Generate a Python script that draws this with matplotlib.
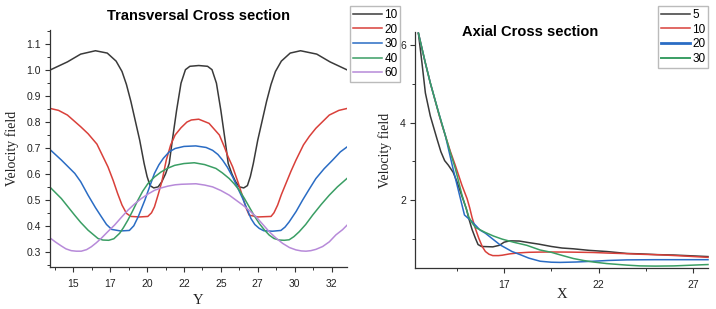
import matplotlib
matplotlib.use("Agg")
import matplotlib.pyplot as plt
from matplotlib.lines import Line2D
from matplotlib.ticker import FixedLocator, MultipleLocator

# ---- Transversal cross section (velocity vs Y) ----
t_labels = ["10", "20", "30", "40", "60"]

t10_x = [13.4, 14.0, 14.6, 15.5, 16.5, 17.3, 17.9, 18.3, 18.6, 18.9, 19.2, 19.5, 19.8, 20.0,
         20.2, 20.45, 20.75, 21.0, 21.25, 21.5, 21.7, 22.0, 22.3, 22.6, 22.9, 23.5, 24.1, 24.4,
         24.7, 25.0, 25.3, 25.5, 25.75, 26.0, 26.25, 26.55, 26.8, 27.0, 27.2, 27.5, 27.8, 28.1,
         28.4, 28.7, 29.1, 29.7, 30.4, 31.5, 32.4, 33.0, 33.6]
t10_y = [1.000, 1.016, 1.032, 1.062, 1.075, 1.066, 1.035, 0.995, 0.945, 0.880, 0.805, 0.730,
         0.640, 0.590, 0.555, 0.546, 0.550, 0.570, 0.600, 0.640, 0.725, 0.845, 0.950, 1.002,
         1.015, 1.018, 1.015, 1.002, 0.950, 0.845, 0.725, 0.640, 0.600, 0.570, 0.550, 0.546,
         0.555, 0.590, 0.640, 0.730, 0.805, 0.880, 0.945, 0.995, 1.035, 1.066, 1.075, 1.062,
         1.032, 1.016, 1.000]

t20_x = [13.4, 14.0, 14.6, 15.5, 16.0, 16.6, 17.35, 17.7, 18.0, 18.3, 18.6, 18.9, 19.5, 20.05,
         20.3, 20.5, 20.75, 21.0, 21.3, 21.6, 21.9, 22.3, 22.7, 23.0, 23.5, 24.2, 24.9, 25.23,
         25.5, 25.8, 26.15, 26.48, 26.7, 26.92, 27.5, 28.4, 28.6, 28.85, 29.1, 29.41, 29.75,
         30.09, 30.6, 31.0, 31.44, 32.35, 33.0, 33.6]
t20_y = [0.853, 0.845, 0.827, 0.782, 0.755, 0.715, 0.627, 0.575, 0.525, 0.480, 0.448, 0.436,
         0.434, 0.436, 0.450, 0.473, 0.520, 0.570, 0.653, 0.712, 0.750, 0.778, 0.800, 0.808,
         0.811, 0.795, 0.750, 0.705, 0.665, 0.627, 0.570, 0.512, 0.470, 0.441, 0.434, 0.436,
         0.450, 0.480, 0.520, 0.563, 0.610, 0.653, 0.712, 0.745, 0.776, 0.827, 0.845, 0.853]

t30_x = [13.4, 14.2, 15.1, 15.5, 16.0, 16.5, 16.9, 17.25, 17.6, 18.2, 18.8, 19.1, 19.4, 19.85,
         20.2, 20.5, 20.8, 21.1, 21.5, 21.9, 22.5, 23.3, 24.0, 24.44, 24.8, 25.12, 25.45, 25.8,
         26.15, 26.48, 27.04, 27.3, 27.6, 27.9, 28.5, 29.07, 29.35, 29.63, 30.1, 30.54, 31.0,
         31.44, 32.0, 32.57, 33.1, 33.6]
t30_y = [0.695, 0.653, 0.602, 0.570, 0.518, 0.470, 0.435, 0.405, 0.386, 0.380, 0.382, 0.400,
         0.435, 0.499, 0.555, 0.602, 0.635, 0.660, 0.685, 0.698, 0.706, 0.708, 0.702, 0.691,
         0.675, 0.653, 0.625, 0.588, 0.545, 0.505, 0.428, 0.405, 0.390, 0.381, 0.379, 0.382,
         0.395, 0.415, 0.455, 0.499, 0.542, 0.582, 0.620, 0.653, 0.685, 0.706]

t40_x = [13.4, 14.19, 15.09, 15.5, 16.0, 16.67, 17.0, 17.4, 17.75, 18.14, 18.4, 18.7, 19.0,
         19.38, 19.7, 20.06, 20.5, 20.96, 21.4, 21.87, 22.5, 23.2, 23.9, 24.67, 25.1, 25.57,
         25.9, 26.25, 26.6, 26.92, 27.25, 27.6, 27.95, 28.28, 28.6, 28.96, 29.3, 29.63, 29.95,
         30.31, 30.75, 31.22, 31.8, 32.35, 32.9, 33.6]
t40_y = [0.550, 0.505, 0.441, 0.413, 0.383, 0.351, 0.345, 0.344, 0.350, 0.371, 0.393, 0.422,
         0.455, 0.499, 0.533, 0.563, 0.588, 0.608, 0.622, 0.633, 0.640, 0.643, 0.636, 0.621,
         0.604, 0.582, 0.562, 0.537, 0.505, 0.473, 0.440, 0.409, 0.384, 0.364, 0.351, 0.345,
         0.344, 0.346, 0.358, 0.377, 0.405, 0.441, 0.482, 0.518, 0.550, 0.585]

t60_x = [13.4, 13.8, 14.19, 14.5, 14.86, 15.2, 15.54, 15.9, 16.22, 16.55, 16.9, 17.35, 17.8,
         18.25, 18.7, 19.15, 19.61, 20.05, 20.51, 20.96, 21.42, 21.9, 22.32, 22.8, 23.31, 23.9,
         24.44, 25.0, 25.57, 26.0, 26.48, 26.93, 27.38, 27.8, 28.28, 28.75, 29.19, 29.65, 30.09,
         30.45, 30.77, 31.1, 31.44, 31.9, 32.35, 32.8, 33.25, 33.6]
t60_y = [0.354, 0.337, 0.322, 0.311, 0.304, 0.302, 0.302, 0.308, 0.319, 0.334, 0.352, 0.378,
         0.403, 0.432, 0.460, 0.484, 0.505, 0.522, 0.537, 0.546, 0.553, 0.558, 0.560, 0.561,
         0.562, 0.557, 0.550, 0.536, 0.518, 0.500, 0.480, 0.459, 0.435, 0.408, 0.377, 0.352,
         0.332, 0.316, 0.307, 0.303, 0.302, 0.304, 0.309, 0.320, 0.338, 0.365, 0.385, 0.405]

t_xticks = [15, 17.5, 20, 22.5, 25, 27.5, 30, 32.5]
t_xticklabels = ["15", "17", "20", "22", "25", "27", "30", "32"]
t_yticks = [0.3, 0.4, 0.5, 0.6, 0.7, 0.8, 0.9, 1.0, 1.1]
t_yticklabels = ["0.3", "0.4", "0.5", "0.6", "0.7", "0.8", "0.9", "1.0", "1.1"]

# ---- Axial cross section (velocity vs X) ----
a_labels = ["5", "10", "20", "30"]

a5_x = [12.46, 12.65, 12.83, 13.09, 13.45, 13.65, 13.85, 14.05, 14.3, 14.5, 14.77, 15.0, 15.13,
        15.3, 15.48, 15.62, 15.8, 16.4, 16.75, 17.0, 17.3, 17.8, 18.3, 18.84, 19.5, 20.07,
        20.67, 21.5, 22.44, 23.5, 24.21, 25.1, 25.97, 26.9, 27.8]
a5_y = [6.30, 5.53, 4.76, 4.17, 3.57, 3.25, 3.02, 2.90, 2.72, 2.48, 2.10, 1.78, 1.53, 1.25,
        1.02, 0.86, 0.81, 0.80, 0.84, 0.92, 0.955, 0.95, 0.91, 0.87, 0.81, 0.77, 0.75, 0.71,
        0.68, 0.63, 0.62, 0.60, 0.59, 0.57, 0.55]

a10_x = [12.46, 12.83, 13.09, 13.25, 13.54, 13.7, 13.89, 14.15, 14.42, 14.77, 15.04, 15.18,
         15.3, 15.48, 15.66, 15.85, 16.01, 16.2, 16.4, 16.7, 16.9, 17.3, 17.78, 18.3, 18.84,
         19.5, 20.5, 21.73, 22.5, 23.5, 24.21, 25.27, 26.5, 27.8]
a10_y = [6.30, 5.53, 5.02, 4.74, 4.22, 3.95, 3.66, 3.26, 2.89, 2.38, 2.04, 1.80, 1.56, 1.27,
         1.02, 0.80, 0.68, 0.61, 0.575, 0.575, 0.585, 0.62, 0.645, 0.66, 0.665, 0.668, 0.665,
         0.655, 0.64, 0.625, 0.61, 0.595, 0.565, 0.53]

a20_x = [12.46, 12.83, 13.09, 13.25, 13.54, 13.89, 14.1, 14.3, 14.6, 14.9, 15.3, 15.73, 16.01,
         16.4, 16.79, 17.42, 17.85, 18.31, 18.91, 19.5, 19.97, 20.8, 21.73, 22.5, 23.5, 25.0,
         26.5, 27.8]
a20_y = [6.30, 5.53, 5.02, 4.74, 4.24, 3.66, 3.22, 2.80, 2.21, 1.62, 1.45, 1.23, 1.15, 1.00,
         0.85, 0.68, 0.60, 0.51, 0.43, 0.405, 0.40, 0.41, 0.43, 0.45, 0.465, 0.47, 0.47, 0.47]

a30_x = [12.46, 12.83, 13.09, 13.25, 13.54, 13.89, 14.15, 14.42, 14.77, 15.13, 15.3, 15.48,
         16.01, 16.43, 16.89, 17.5, 18.2, 18.9, 19.5, 20.07, 20.67, 21.2, 21.73, 22.44, 23.5,
         24.21, 25.0, 26.0, 27.0, 27.8]
a30_y = [6.30, 5.53, 5.02, 4.74, 4.24, 3.66, 3.23, 2.81, 2.13, 1.57, 1.42, 1.30, 1.17, 1.08,
         1.00, 0.92, 0.84, 0.72, 0.66, 0.58, 0.50, 0.45, 0.41, 0.37, 0.33, 0.31, 0.305, 0.31,
         0.33, 0.345]

colors = ["#3a3a3a", "#d9403a", "#2a6cc4", "#3a9e64", "#b78ad9"]

plt.rcParams["font.family"] = ["Liberation Sans", "DejaVu Sans"]

fig = plt.figure(figsize=(7.16, 3.09), dpi=100)
ax1 = fig.add_axes([50 / 716, 1 - 267 / 309, 297 / 716, 237 / 309])
ax2 = fig.add_axes([415 / 716, 1 - 268 / 309, 293 / 716, 236 / 309])

t_series = [(t10_x, t10_y), (t20_x, t20_y), (t30_x, t30_y), (t40_x, t40_y), (t60_x, t60_y)]
for (xs, ys), c in zip(t_series, colors):
    ax1.plot(xs, ys, color=c, lw=1.1, solid_joinstyle="round")

a_series = [(a5_x, a5_y), (a10_x, a10_y), (a20_x, a20_y), (a30_x, a30_y)]
for (xs, ys), c in zip(a_series, colors[:4]):
    ax2.plot(xs, ys, color=c, lw=1.1, clip_on=False, solid_joinstyle="round")

# left axes
ax1.set_xlim(13.42, 33.55)
ax1.set_ylim(0.241, 1.155)
ax1.xaxis.set_major_locator(FixedLocator(t_xticks))
ax1.set_xticklabels(t_xticklabels)
ax1.xaxis.set_minor_locator(MultipleLocator(1.25))
ax1.set_yticks(t_yticks)
ax1.set_yticklabels(t_yticklabels)
ax1.yaxis.set_minor_locator(MultipleLocator(0.05))

# right axes
ax2.set_xlim(12.28, 27.8)
ax2.set_ylim(0.256, 6.33)
ax2.set_xticks([17, 22, 27])
ax2.xaxis.set_minor_locator(FixedLocator([14.5, 19.5, 24.5]))
ax2.set_yticks([2, 4, 6])
ax2.yaxis.set_minor_locator(FixedLocator([1, 3, 5]))

for ax in (ax1, ax2):
    for s in ("top", "right"):
        ax.spines[s].set_visible(False)
    for s in ("left", "bottom"):
        ax.spines[s].set_color("#333333")
        ax.spines[s].set_linewidth(0.9)
    ax.tick_params(which="major", length=3.5, width=0.8, color="#333333",
                   labelsize=7.5, labelcolor="#222222")
    ax.tick_params(which="minor", length=2, width=0.7, color="#333333")
    ax.tick_params(axis="x", pad=5)
    ax.tick_params(axis="y", pad=3)

serif = ["Liberation Serif", "DejaVu Serif"]
ax1.set_ylabel("Velocity field", family=serif, fontsize=10, color="#222222")
ax1.yaxis.set_label_coords(-0.105, 0.5)
ax1.set_xlabel("Y", family=serif, fontsize=10.5, color="#222222")
ax1.xaxis.set_label_coords(0.5, -0.112)
ax2.set_ylabel("Velocity field", family=serif, fontsize=10, color="#222222")
ax2.yaxis.set_label_coords(-0.078, 0.5)
ax2.set_xlabel("X", family=serif, fontsize=10.5, color="#222222")
ax2.xaxis.set_label_coords(0.5, -0.085)

ax1.set_title("Transversal Cross section", fontsize=10.5, fontweight="bold", pad=7)
fig.text(530 / 716, 1 - 32 / 309, "Axial Cross section", fontsize=10.5,
         fontweight="bold", ha="center", va="center")

# legends
t_handles = [Line2D([], [], color=c, lw=1.1) for c in colors]
fig.legend(t_handles, t_labels, loc="upper left", bbox_to_anchor=(350 / 716, 1 - 6 / 309),
           fontsize=8.5, handlelength=2.5, handletextpad=0.15, labelspacing=0.22,
           borderpad=0.25, borderaxespad=0, fancybox=False, edgecolor="#bbbbbb",
           framealpha=1)
a_lw = [1.1, 1.1, 2.0, 1.4]
a_handles = [Line2D([], [], color=c, lw=w) for c, w in zip(colors[:4], a_lw)]
fig.legend(a_handles, a_labels, loc="upper left", bbox_to_anchor=(658 / 716, 1 - 6 / 309),
           fontsize=8.5, handlelength=2.5, handletextpad=0.15, labelspacing=0.22,
           borderpad=0.25, borderaxespad=0, fancybox=False, edgecolor="#bbbbbb",
           framealpha=1)

fig.savefig("out.png", dpi=100)
